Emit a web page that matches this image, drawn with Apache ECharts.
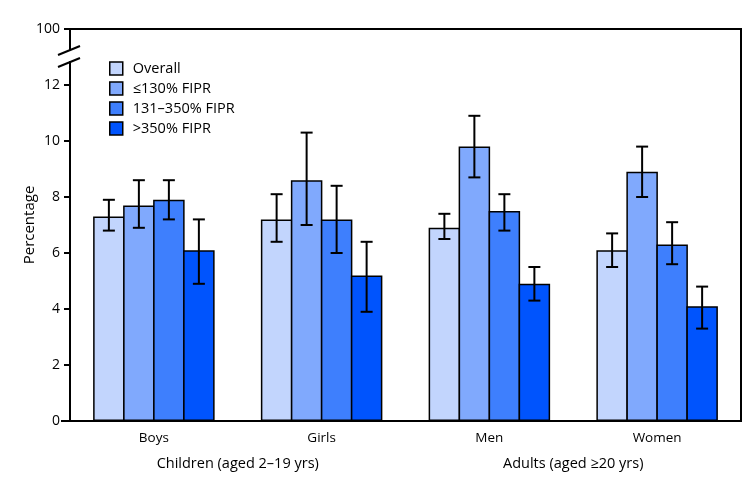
<!DOCTYPE html>
<html>
<head>
<meta charset="utf-8">
<title>FIPR chart</title>
<script src="https://cdn.jsdelivr.net/npm/echarts@6/dist/echarts.min.js"></script>
<style>
    html, body { margin: 0; padding: 0; background: #fff; }
    #chart { width: 750px; height: 493px; }
</style>
</head>
<body>
<div id="chart"></div>
<script>
    // categories and groups
    var categories = ['Boys', 'Girls', 'Men', 'Women'];
    var groups = ['Children (aged 2\u201319 yrs)', 'Adults (aged \u226520 yrs)'];
    var seriesNames = ['Overall', '\u2264130% FIPR', '131\u2013350% FIPR', '>350% FIPR'];
    var colors = ['#c2d5fd', '#80a9fd', '#3e7ffd', '#0054fd'];

    // values per series (Boys, Girls, Men, Women)
    var overall = [7.3, 7.2, 6.9, 6.1];
    var fiprLow = [7.7, 8.6, 9.8, 8.9];
    var fiprMid = [7.9, 7.2, 7.5, 6.3];
    var fiprHigh = [6.1, 5.2, 4.9, 4.1];

    // 95% CI lower / upper
    var overallCI = [[6.8, 7.9], [6.4, 8.1], [6.5, 7.4], [5.5, 6.7]];
    var fiprLowCI = [[6.9, 8.6], [7.0, 10.3], [8.7, 10.9], [8.0, 9.8]];
    var fiprMidCI = [[7.2, 8.6], [6.0, 8.4], [6.8, 8.1], [5.6, 7.1]];
    var fiprHighCI = [[4.9, 7.2], [3.9, 6.4], [4.3, 5.5], [3.3, 4.8]];

    // y tick labels (top tick shown as 100 after the axis break)
    var yTicks = {0: '0', 2: '2', 4: '4', 6: '6', 8: '8', 10: '10', 12: '12', 14: '100'};

    var values = [overall, fiprLow, fiprMid, fiprHigh];
    var cis = [overallCI, fiprLowCI, fiprMidCI, fiprHighCI];
    var step = 30;      // distance between bar centres
    var barW = 31.5;    // echarts draws the border inside the bar, so widen a bit
    var font = 'Open Sans';

    var series = [];
    values.forEach(function (v, i) {
        series.push({
            name: seriesNames[i],
            type: 'bar',
            data: v,
            barWidth: barW,
            barGap: ((step - barW) / barW * 100) + '%',
            itemStyle: {color: colors[i], borderColor: '#000', borderWidth: 1.5}
        });
    });
    cis.forEach(function (ci, i) {
        series.push({
            type: 'custom',
            z: 10,
            data: ci.map(function (d, k) { return [k, d[0], d[1]]; }),
            renderItem: function (params, api) {
                var lo = api.coord([api.value(0), api.value(1)]);
                var hi = api.coord([api.value(0), api.value(2)]);
                var x = lo[0] + (i - 1.5) * step;
                var h = 6;
                var st = {stroke: '#000', lineWidth: 2};
                return {
                    type: 'group',
                    children: [
                        {type: 'line', shape: {x1: x, y1: lo[1], x2: x, y2: hi[1]}, style: st},
                        {type: 'line', shape: {x1: x - h, y1: lo[1], x2: x + h, y2: lo[1]}, style: st},
                        {type: 'line', shape: {x1: x - h, y1: hi[1], x2: x + h, y2: hi[1]}, style: st}
                    ]
                };
            }
        });
    });

    var myChart = echarts.init(document.getElementById('chart'));
    var option = {
        animation: false,
        textStyle: {fontFamily: font, color: '#000'},
        grid: {left: 70, right: 9, top: 29, bottom: 72, show: true, borderColor: '#000', borderWidth: 2},
        legend: {
            data: seriesNames,
            orient: 'vertical',
            left: 104,
            top: 56,
            itemWidth: 13,
            itemHeight: 13,
            itemGap: 5,
            icon: 'rect',
            itemStyle: {borderColor: '#000', borderWidth: 1.5},
            textStyle: {fontFamily: font, fontSize: 14.5, color: '#000', padding: [0, 0, 0, 5]}
        },
        xAxis: [
            {
                type: 'category',
                data: categories,
                axisLine: {lineStyle: {color: '#000', width: 2}},
                axisTick: {alignWithLabel: true, length: 7, lineStyle: {color: '#000', width: 2}},
                axisLabel: {fontFamily: font, fontSize: 13.5, color: '#000', margin: 10}
            },
            {
                type: 'category',
                data: groups,
                position: 'bottom',
                offset: 27,
                axisLine: {show: false},
                axisTick: {show: false},
                axisLabel: {fontFamily: font, fontSize: 14.5, color: '#000'}
            }
        ],
        yAxis: {
            type: 'value',
            min: 0,
            max: 14,
            interval: 2,
            name: 'Percentage',
            nameLocation: 'middle',
            nameGap: 33,
            nameMoveOverlap: false,
            nameTextStyle: {fontFamily: font, fontSize: 15, color: '#000'},
            splitLine: {show: false},
            axisLine: {show: true, lineStyle: {color: '#000', width: 2}},
            axisTick: {show: true, length: 6, lineStyle: {color: '#000', width: 2}},
            axisLabel: {
                fontFamily: font, fontSize: 14, color: '#000', margin: 10,
                formatter: function (v) { return yTicks[v]; }
            }
        },
        graphic: [
            {type: 'rect', z: 100, shape: {x: 60, y: 50, width: 20, height: 11}, style: {fill: '#fff'}},
            {type: 'line', z: 101, shape: {x1: 58, y1: 55, x2: 80, y2: 46}, style: {stroke: '#000', lineWidth: 2}},
            {type: 'line', z: 101, shape: {x1: 58, y1: 67, x2: 80, y2: 58}, style: {stroke: '#000', lineWidth: 2}},
            {type: 'line', z: 101, shape: {x1: 61, y1: 421, x2: 71, y2: 421}, style: {stroke: '#000', lineWidth: 2}}
        ],
        series: series
    };
    myChart.setOption(option);
</script>
</body>
</html>
